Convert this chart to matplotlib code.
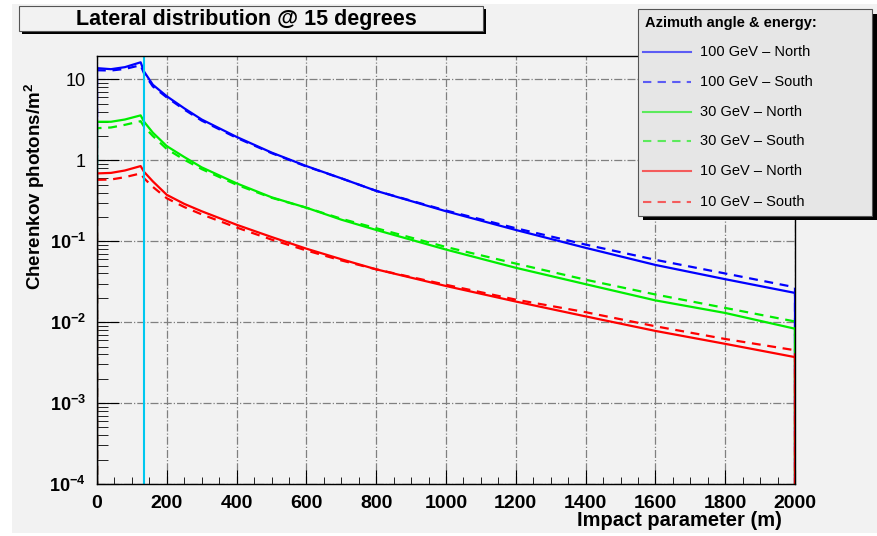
import matplotlib
matplotlib.use('Agg')
import matplotlib.pyplot as plt
from matplotlib.patches import Rectangle
from matplotlib.lines import Line2D
from matplotlib.ticker import FixedLocator, MultipleLocator, NullFormatter
import numpy as np

plt.rcParams['font.family'] = ['Liberation Sans', 'DejaVu Sans']
plt.rcParams['mathtext.fontset'] = 'custom'
plt.rcParams['mathtext.rm'] = 'Liberation Sans:bold'
plt.rcParams['mathtext.bf'] = 'Liberation Sans:bold'
plt.rcParams['mathtext.default'] = 'bf'

# impact parameter samples (m)
impact = [0, 40, 80, 125, 135, 160, 200, 250, 300, 400, 500, 600, 700, 800,
          1000, 1200, 1400, 1600, 1800, 2000]

# Cherenkov photon density (photons/m^2)
gev100_north = [13.8, 13.4, 14.2, 16.3, 12.5, 8.6, 6.2, 4.4, 3.2, 1.95, 1.25, 0.85,
                0.6, 0.42, 0.235, 0.138, 0.083, 0.051, 0.034, 0.023]
gev100_south = [13.0, 12.9, 13.5, 15.0, 11.8, 8.2, 6.0, 4.25, 3.1, 1.9, 1.23, 0.84,
                0.6, 0.42, 0.24, 0.145, 0.091, 0.059, 0.040, 0.027]
gev30_north = [3.0, 3.0, 3.2, 3.6, 3.0, 2.2, 1.5, 1.1, 0.82, 0.52, 0.35, 0.26,
               0.185, 0.138, 0.079, 0.047, 0.0295, 0.0186, 0.013, 0.0083]
gev30_south = [2.5, 2.55, 2.75, 3.05, 2.6, 2.0, 1.38, 1.02, 0.78, 0.5, 0.345, 0.26,
               0.19, 0.145, 0.085, 0.053, 0.0335, 0.022, 0.015, 0.0102]
gev10_north = [0.69, 0.70, 0.75, 0.85, 0.72, 0.55, 0.375, 0.29, 0.235, 0.16, 0.113, 0.081,
               0.06, 0.045, 0.028, 0.018, 0.0118, 0.0078, 0.0054, 0.0037]
gev10_south = [0.575, 0.58, 0.62, 0.69, 0.60, 0.47, 0.34, 0.265, 0.215, 0.148, 0.105, 0.077,
               0.058, 0.045, 0.029, 0.019, 0.0133, 0.0089, 0.0062, 0.0045]

series = [
    ('100 GeV \u2013 North', gev100_north, '#0000ff', '-'),
    ('100 GeV \u2013 South', gev100_south, '#0000ff', (0, (4, 3))),
    ('30 GeV \u2013 North', gev30_north, '#00ee00', '-'),
    ('30 GeV \u2013 South', gev30_south, '#00ee00', (0, (4, 3))),
    ('10 GeV \u2013 North', gev10_north, '#ff0000', '-'),
    ('10 GeV \u2013 South', gev10_south, '#ff0000', (0, (4, 3))),
]

cut_position = 135
ytick_vals = [1e-4, 1e-3, 1e-2, 1e-1, 1, 10]
ytick_text = ['$10^{-4}$', '$10^{-3}$', '$10^{-2}$', '$10^{-1}$', '1', '10']

W, H = 877, 536
fig = plt.figure(figsize=(W / 100, H / 100), dpi=100)
fig.patch.set_facecolor('white')

# grey canvas
fig.patches.append(Rectangle((12 / W, 1 - 533 / H), (W - 12) / W, (533 - 4) / H,
                             transform=fig.transFigure, facecolor='#f2f2f2',
                             edgecolor='none', zorder=-10))

ax = fig.add_axes([97 / W, 1 - 484 / H, (795 - 97) / W, (484 - 56) / H])
ax.set_facecolor('#f2f2f2')

for label, vals, color, ls in series:
    xs = np.concatenate([[impact[0]], impact, [impact[-1]]])
    ys = np.concatenate([[1e-6], vals, [1e-6]])
    ax.plot(xs, ys, color=color, linestyle=ls, linewidth=1.6)

ax.axvline(cut_position, color='#00c8f0', linewidth=1.5)

ax.set_yscale('log')
ax.set_xlim(0, 2000)
ax.set_ylim(1e-4, 19.5)

ax.xaxis.set_major_locator(MultipleLocator(200))
ax.xaxis.set_minor_locator(MultipleLocator(50))
ax.yaxis.set_major_locator(FixedLocator(ytick_vals))
ax.set_yticklabels(ytick_text)
ax.yaxis.set_minor_formatter(NullFormatter())

ax.tick_params(axis='both', which='both', direction='in', top=False, right=False,
               labelsize=14, color='black')
ax.tick_params(axis='x', which='major', length=10, pad=8)
ax.tick_params(axis='x', which='minor', length=5)
ax.tick_params(axis='y', which='major', length=16, pad=8, labelsize=13)
ax.tick_params(axis='y', which='minor', length=8)
for lbl in ax.get_xticklabels():
    lbl.set_fontweight('bold')

ax.grid(True, which='major', color='#808080', linestyle='-.', linewidth=0.9)
for sp in ax.spines.values():
    sp.set_linewidth(1.0)

fig.text(782 / W, 1 - 520 / H, 'Impact parameter (m)', ha='right', va='center',
         fontsize=14.5, fontweight='bold')
fig.text(35 / W, 1 - 83 / H, 'Cherenkov photons/m$^{2}$', ha='center', va='top',
         rotation=90, fontsize=13.5, fontweight='bold')

# title box with shadow
fig.patches.append(Rectangle((22 / W, 1 - 34 / H), (486 - 22) / W, (34 - 9) / H,
                             transform=fig.transFigure, facecolor='black',
                             edgecolor='none', zorder=5))
fig.patches.append(Rectangle((19 / W, 1 - 31 / H), (483 - 19) / W, (31 - 6) / H,
                             transform=fig.transFigure, facecolor='#f2f2f2',
                             edgecolor='#555555', linewidth=0.8, zorder=6))
fig.text(246 / W, 1 - 19 / H, 'Lateral distribution @ 15 degrees', ha='center',
         va='center', fontsize=15.5, fontweight='bold', zorder=7)

# legend box with shadow
fig.patches.append(Rectangle((643 / W, 1 - 220 / H), (877 - 643) / W, (220 - 14) / H,
                             transform=fig.transFigure, facecolor='black',
                             edgecolor='none', zorder=5))
fig.patches.append(Rectangle((638 / W, 1 - 216 / H), (872 - 638) / W, (216 - 9) / H,
                             transform=fig.transFigure, facecolor='#e6e6e6',
                             edgecolor='#555555', linewidth=0.8, zorder=6))
fig.text(645 / W, 1 - 23 / H, 'Azimuth angle & energy:', ha='left', va='center',
         fontsize=10.5, fontweight='bold', zorder=7)
row_y = [52, 82, 112, 141, 171, 202]
for (label, vals, color, ls), yy in zip(series, row_y):
    fig.lines.append(Line2D([643 / W, 691 / W], [1 - yy / H, 1 - yy / H],
                            transform=fig.transFigure, color=color, linestyle=ls,
                            linewidth=1.5, alpha=0.6, zorder=7))
    fig.text(700 / W, 1 - yy / H, label, ha='left', va='center', fontsize=10.5,
             zorder=7)

fig.savefig('out.png', dpi=100, facecolor=fig.get_facecolor())
